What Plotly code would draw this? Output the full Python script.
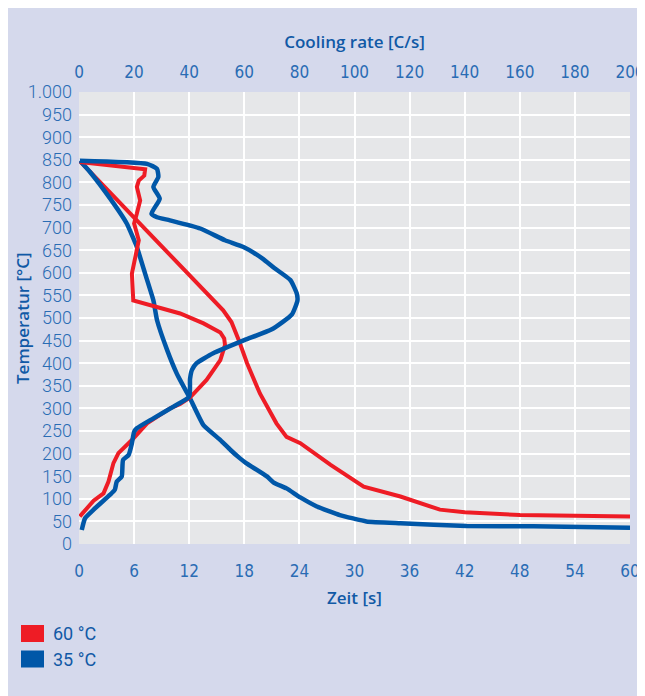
import plotly.graph_objects as go

# ---------------- data ----------------
# Cooling curves: time [s] vs temperature [°C]
red_time_s = [0.2, 15.7, 16.6, 17.4, 18.3, 19.7, 21.5, 22.6, 24.1, 27.4, 31.0, 35.0, 39.3, 42.0, 48.0, 54.0, 60.0]
red_time_T = [845, 517, 491, 451, 400, 333, 267, 237, 223, 175, 127, 105, 76, 70, 64, 62, 61]

blue_time_s = [0.1, 1.2, 3.4, 5.2, 6.3, 7.2, 8.1, 8.5, 9.6, 10.65, 11.0, 12.1, 13.55, 15.4, 16.5, 17.5,
               18.2, 20.5, 21.2, 22.6, 24.1, 25.9, 28.4, 31.3, 35.0, 42.2, 49.5, 60.0]
blue_time_T = [848, 823, 764, 709, 657, 598, 539, 495, 429, 377, 363, 322, 263, 230, 208, 190,
               179, 149, 136, 123, 103, 83, 64, 50, 46, 40, 39, 36]

# Cooling rate curves: cooling rate [C/s] vs temperature [°C]
red_rate = [0.3, 24.0, 23.7, 21.7, 21.0, 22.2, 21.0, 20.0, 21.7, 20.3, 19.2, 19.7, 36.7, 45.2, 48.7,
            51.3, 52.7, 53.0, 51.3, 46.3, 40.3, 36.7, 33.0, 24.7, 19.2, 14.3, 12.5, 10.7, 8.9, 5.3, 0.3]
red_rate_T = [845, 829, 815, 804, 790, 760, 731, 709, 672, 628, 598, 539, 510, 488, 477,
              468, 455, 440, 407, 363, 324, 310, 300, 267, 230, 201, 179, 138, 112, 96, 61]

blue_rate = [0.3, 24.7, 28.3, 28.8, 27.0, 29.3, 26.3, 28.3, 33.0, 44.0, 53.0, 59.7, 66.5, 71.0, 76.7,
             79.0, 79.3, 77.3, 70.0, 60.0, 48.7, 42.7, 41.0, 40.3, 40.0,
             34.3, 27.0, 21.0, 20.0, 19.2, 18.0, 16.0, 15.5, 13.7, 13.0, 11.3, 5.3, 2.2, 1.0]
blue_rate_T = [848, 841, 830, 812, 790, 764, 731, 723, 716, 698, 672, 657, 632, 610, 584,
               555, 539, 508, 475, 451, 422, 400, 385, 365, 326,
               304, 278, 256, 248, 223, 197, 186, 149, 138, 120, 109, 76, 57, 31]

series_names = ["60\u00a0°C", "35\u00a0°C"]
series_colors = ["#ee1c25", "#0057a8"]

time_ticks = list(range(0, 61, 6))
rate_ticks = list(range(0, 201, 20))
temp_ticks = list(range(0, 1001, 50))
temp_labels = [f"{v:,}".replace(",", ".") for v in temp_ticks]

# ---------------- layout helpers ----------------
W, H = 637, 688
OFF = 8  # page body margin
ML, MR, MT, MB = 71, 15, 84, 152
PW, PH = W - ML - MR, H - MT - MB


def px2x(px):
    return (px - OFF - ML) / PW


def py2y(py):
    return (H - MB - (py - OFF)) / PH


TICK_COLOR = "#2a6cb4"
TITLE_COLOR = "#1159a6"
ytick_font = dict(family="Roboto, Liberation Sans, sans-serif", size=18, color=TICK_COLOR, weight=300)
xtick_font = dict(family="Liberation Sans Narrow, DejaVu Sans Condensed, sans-serif", size=17,
                  color=TICK_COLOR)
title_font = dict(family="Open Sans, Lato, sans-serif", size=17, color=TITLE_COLOR, weight=600)

fig = go.Figure()

fig.add_trace(go.Scatter(x=red_time_s, y=red_time_T, mode="lines", name=series_names[0],
                         line=dict(color=series_colors[0], width=4), showlegend=False, xaxis="x", yaxis="y"))
fig.add_trace(go.Scatter(x=red_rate, y=red_rate_T, mode="lines", name=series_names[0],
                         line=dict(color=series_colors[0], width=4), showlegend=False, xaxis="x2", yaxis="y"))
fig.add_trace(go.Scatter(x=blue_time_s, y=blue_time_T, mode="lines", name=series_names[1],
                         line=dict(color=series_colors[1], width=4.5, shape="spline", smoothing=0.4),
                         showlegend=False, xaxis="x", yaxis="y"))
fig.add_trace(go.Scatter(x=blue_rate, y=blue_rate_T, mode="lines", name=series_names[1],
                         line=dict(color=series_colors[1], width=4.5, shape="spline", smoothing=0.5),
                         showlegend=False, xaxis="x2", yaxis="y"))

shapes = []
annotations = [
    dict(text="Temperatur [°C]", xref="paper", yref="paper", x=px2x(22), y=0.5,
         xanchor="center", yanchor="middle", textangle=-90, showarrow=False, font=title_font),
]
for i, (name, col) in enumerate(zip(series_names, series_colors)):
    cy = 633.5 + i * 25.5
    shapes.append(dict(type="rect", xref="paper", yref="paper",
                       x0=px2x(21), x1=px2x(44), y0=py2y(cy + 8.5), y1=py2y(cy - 8.5),
                       fillcolor=col, line=dict(width=0)))
    annotations.append(dict(text=name, xref="paper", yref="paper", x=px2x(51), y=py2y(cy),
                            xanchor="left", yanchor="middle", showarrow=False,
                            font=dict(family="Roboto, sans-serif", size=18, color=TITLE_COLOR)))

fig.update_layout(
    width=W, height=H,
    margin=dict(l=ML, r=MR, t=MT, b=MB, pad=0, autoexpand=False),
    paper_bgcolor="#d5d9ec",
    plot_bgcolor="#e6e7e9",
    showlegend=False,
    shapes=shapes,
    annotations=annotations,
    xaxis=dict(range=[0, 60], tickvals=time_ticks, showgrid=True, gridcolor="white", gridwidth=2,
               zeroline=False, showline=False, ticks="", tickfont=xtick_font, ticklabelstandoff=15,
               automargin=False,
               title=dict(text="Zeit [s]", font=title_font, standoff=12)),
    xaxis2=dict(range=[0, 200], tickvals=rate_ticks, overlaying="x", side="top", showgrid=False,
                zeroline=False, showline=False, ticks="", tickfont=xtick_font, ticklabelstandoff=10,
                automargin=False,
                title=dict(text="Cooling rate [C/s]", font=title_font, standoff=8)),
    yaxis=dict(range=[0, 1000], tickvals=temp_ticks, ticktext=temp_labels, showgrid=True,
               gridcolor="white", gridwidth=2, zeroline=False, showline=False, ticks="",
               tickfont=ytick_font, ticklabelstandoff=6, automargin=False),
)

fig.write_html("out.html")
